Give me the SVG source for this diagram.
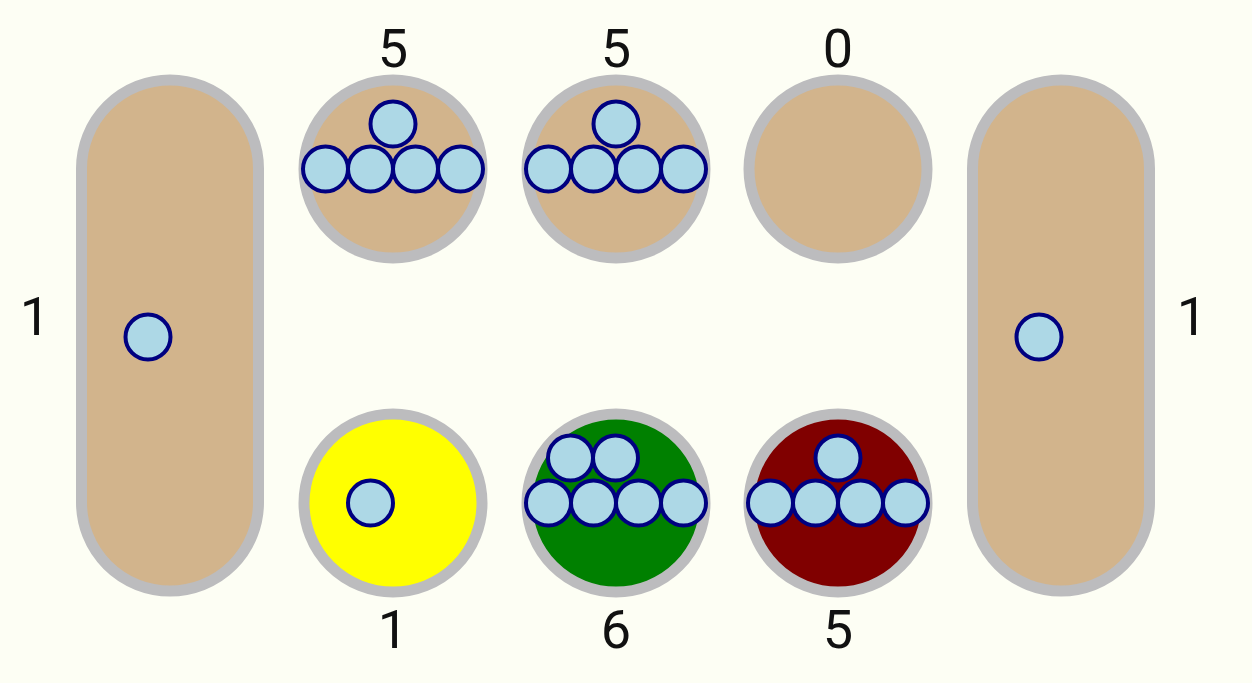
<svg xmlns="http://www.w3.org/2000/svg" width="1252" height="683" viewBox="0 0 1252 683">
<style>
.bg{fill:#fdfef4}
.store,.pit{stroke:#bcbcbe;stroke-width:11}
.tan{fill:#d2b48c}
.seed{fill:#add8e6;stroke:#000080;stroke-width:4}
.lbl{font-family:Roboto,"Liberation Sans",sans-serif;font-size:54px;fill:#111;text-anchor:middle}
</style>
<rect class="bg" x="0" y="0" width="1252" height="683"/>
<g id="store-left">
<rect class="store tan" x="81.5" y="80" width="177" height="511" rx="88.5" ry="88.5"/>
<circle class="seed" cx="148" cy="337" r="22.5"/>
<text class="lbl" x="35" y="335">1</text>
</g>
<g id="store-right">
<rect class="store tan" x="972.5" y="80" width="177" height="511" rx="88.5" ry="88.5"/>
<circle class="seed" cx="1039" cy="337" r="22.5"/>
<text class="lbl" x="1192" y="335">1</text>
</g>
<g id="pit-top-1">
<circle class="pit tan" cx="393" cy="169" r="89"/>
<circle class="seed" cx="393" cy="124" r="22.5"/>
<circle class="seed" cx="325.5" cy="169" r="22.5"/>
<circle class="seed" cx="370.5" cy="169" r="22.5"/>
<circle class="seed" cx="415.5" cy="169" r="22.5"/>
<circle class="seed" cx="460.5" cy="169" r="22.5"/>
<text class="lbl" x="393" y="67">5</text>
</g>
<g id="pit-top-2">
<circle class="pit tan" cx="616" cy="169" r="89"/>
<circle class="seed" cx="616" cy="124" r="22.5"/>
<circle class="seed" cx="548.5" cy="169" r="22.5"/>
<circle class="seed" cx="593.5" cy="169" r="22.5"/>
<circle class="seed" cx="638.5" cy="169" r="22.5"/>
<circle class="seed" cx="683.5" cy="169" r="22.5"/>
<text class="lbl" x="616" y="67">5</text>
</g>
<g id="pit-top-3">
<circle class="pit tan" cx="838" cy="169" r="89"/>
<text class="lbl" x="838" y="67">0</text>
</g>
<g id="pit-bottom-1">
<circle class="pit" fill="#ffff00" cx="393" cy="503" r="89"/>
<circle class="seed" cx="370.5" cy="503" r="22.5"/>
<text class="lbl" x="393" y="648">1</text>
</g>
<g id="pit-bottom-2">
<circle class="pit" fill="#008000" cx="616" cy="503" r="89"/>
<circle class="seed" cx="570.5" cy="458" r="22.5"/>
<circle class="seed" cx="615.5" cy="458" r="22.5"/>
<circle class="seed" cx="548.5" cy="503" r="22.5"/>
<circle class="seed" cx="593.5" cy="503" r="22.5"/>
<circle class="seed" cx="638.5" cy="503" r="22.5"/>
<circle class="seed" cx="683.5" cy="503" r="22.5"/>
<text class="lbl" x="616" y="648">6</text>
</g>
<g id="pit-bottom-3">
<circle class="pit" fill="#800000" cx="838" cy="503" r="89"/>
<circle class="seed" cx="838" cy="458" r="22.5"/>
<circle class="seed" cx="770.5" cy="503" r="22.5"/>
<circle class="seed" cx="815.5" cy="503" r="22.5"/>
<circle class="seed" cx="860.5" cy="503" r="22.5"/>
<circle class="seed" cx="905.5" cy="503" r="22.5"/>
<text class="lbl" x="838" y="648">5</text>
</g>
<g id="connectors"></g>
</svg>
